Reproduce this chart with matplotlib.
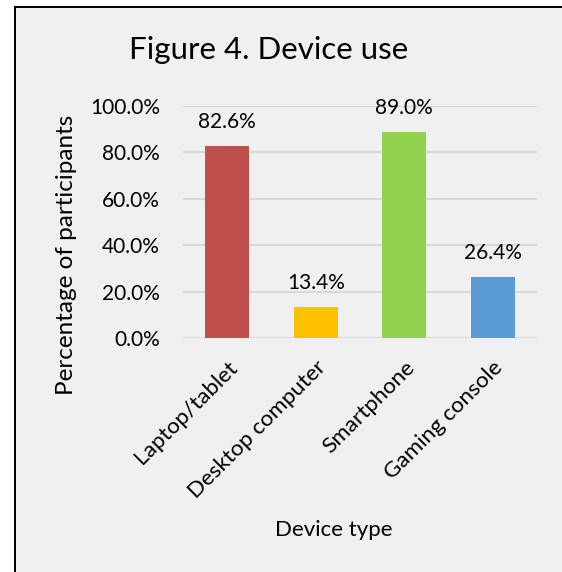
import matplotlib
matplotlib.use("Agg")
import matplotlib.pyplot as plt
from matplotlib.patches import Rectangle
from matplotlib.ticker import FuncFormatter

categories = ["Laptop/tablet", "Desktop computer", "Smartphone", "Gaming console"]
values = [82.6, 13.4, 89.0, 26.4]
colors = ["#C0504D", "#FFC000", "#92D050", "#5B9BD5"]
yticks = [0, 20, 40, 60, 80, 100]

plt.rcParams['font.family'] = ['Lato', 'DejaVu Sans']

W, H = 562, 572
fig = plt.figure(figsize=(W/100, H/100), dpi=100, facecolor="white")

# chart area background and left/top border (outside is white)
fig.add_artist(Rectangle((14/W, 0), 1 - 14/W, 1 - 6/H, transform=fig.transFigure,
                         facecolor="#F0F0F0", edgecolor='none', zorder=-5))
fig.add_artist(Rectangle((14/W, 0), 2/W, 1 - 6/H, transform=fig.transFigure,
                         facecolor="black", edgecolor='none', zorder=-4))
fig.add_artist(Rectangle((14/W, 1 - 8/H), 1 - 14/W, 2/H, transform=fig.transFigure,
                         facecolor="black", edgecolor='none', zorder=-4))

ax = fig.add_axes([183/W, 1-338/H, 354/W, (338-106)/H])
ax.set_facecolor("#F0F0F0")
x = range(len(categories))
bars = ax.bar(x, values, width=0.5, color=colors, zorder=3)
ax.set_xlim(-0.5, len(categories)-0.5)
ax.set_ylim(0, 100)
ax.set_yticks(yticks)
ax.yaxis.set_major_formatter(FuncFormatter(lambda v, p: f"{v:.1f}%"))
ax.grid(axis='y', color="#D9D9D9", linewidth=1.5, zorder=0)
for s in ax.spines.values():
    s.set_visible(False)
ax.tick_params(axis='both', length=0, labelsize=15, colors="black")
ax.tick_params(axis='y', pad=16.5)
ax.set_xticks(list(x))
ax.set_xticklabels(categories, rotation=45, ha='right', rotation_mode='anchor', fontsize=16.2)
ax.tick_params(axis='x', pad=14)

for b, v in zip(bars, values):
    ax.annotate(f"{v:.1f}%", (b.get_x()+b.get_width()/2, v), xytext=(0, 10),
                textcoords='offset points', ha='center', va='bottom', fontsize=15)

fig.text(67/W, 1-255/H, "Percentage of participants", rotation=90,
         ha='center', va='center', fontsize=17.5)
fig.text(334/W, 1-530/H, "Device type", ha='center', va='center', fontsize=16)
fig.text(269/W, 1-50/H, "Figure 4. Device use", ha='center', va='center', fontsize=22.5)

fig.savefig("out.png", dpi=100, facecolor=fig.get_facecolor())
